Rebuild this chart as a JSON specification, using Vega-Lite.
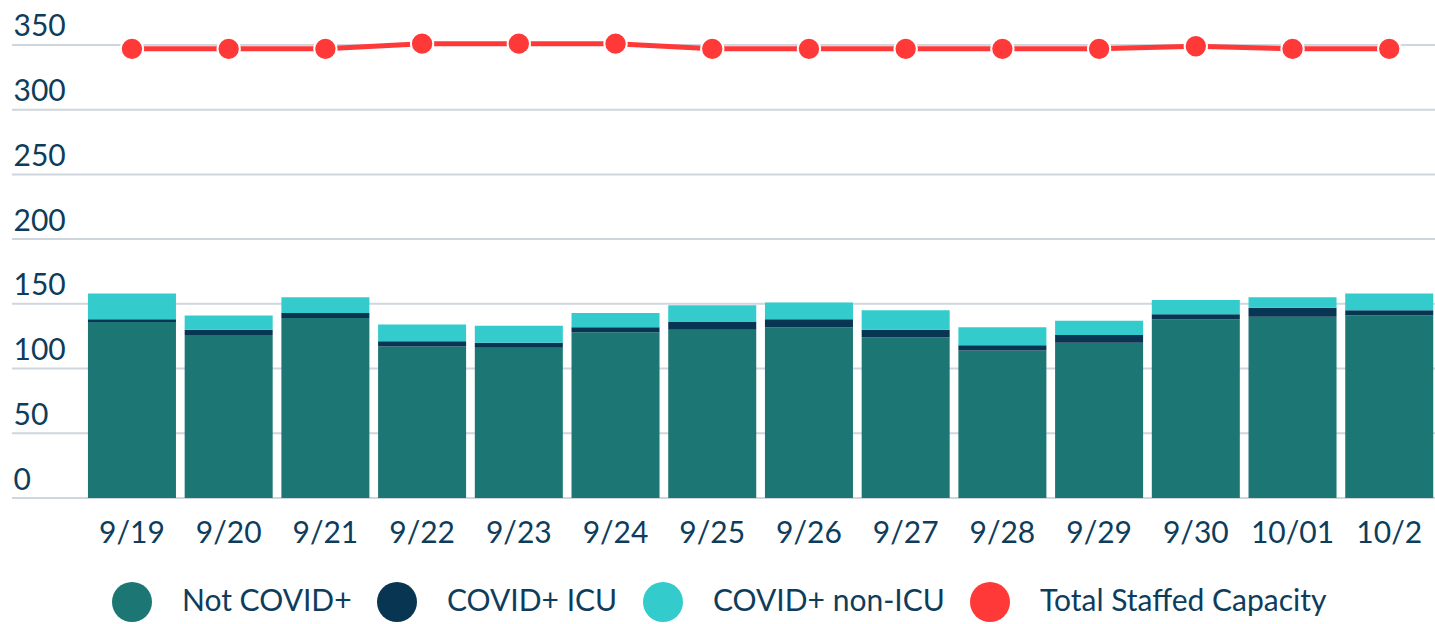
{
  "$schema": "https://vega.github.io/schema/vega-lite/v6.json",
  "autosize": {"type": "none"},
  "padding": {"left": 12, "top": 32, "right": 0, "bottom": 126},
  "width": 1423,
  "height": 466,
  "background": "white",
  "config": {
    "view": {"stroke": null},
    "font": "Lato",
    "axis": {"labelFont": "Lato", "labelColor": "#0e3d5c", "labelFontSize": 30, "title": null},
    "legend": {"labelFont": "Lato", "labelColor": "#0e3d5c", "labelFontSize": 30, "labelLimit": 0}
  },
  "datasets": {
    "census": [
      {"date": "9/19", "notCovid": 136, "icuCovid": 2, "covidNonIcu": 20, "capacity": 347},
      {"date": "9/20", "notCovid": 126, "icuCovid": 4, "covidNonIcu": 11, "capacity": 347},
      {"date": "9/21", "notCovid": 139, "icuCovid": 4, "covidNonIcu": 12, "capacity": 347},
      {"date": "9/22", "notCovid": 117, "icuCovid": 4, "covidNonIcu": 13, "capacity": 351},
      {"date": "9/23", "notCovid": 116, "icuCovid": 4, "covidNonIcu": 13, "capacity": 351},
      {"date": "9/24", "notCovid": 128, "icuCovid": 4, "covidNonIcu": 11, "capacity": 351},
      {"date": "9/25", "notCovid": 130, "icuCovid": 6, "covidNonIcu": 13, "capacity": 347},
      {"date": "9/26", "notCovid": 132, "icuCovid": 6, "covidNonIcu": 13, "capacity": 347},
      {"date": "9/27", "notCovid": 124, "icuCovid": 6, "covidNonIcu": 15, "capacity": 347},
      {"date": "9/28", "notCovid": 114, "icuCovid": 4, "covidNonIcu": 14, "capacity": 347},
      {"date": "9/29", "notCovid": 120, "icuCovid": 6, "covidNonIcu": 11, "capacity": 347},
      {"date": "9/30", "notCovid": 138, "icuCovid": 4, "covidNonIcu": 11, "capacity": 349},
      {"date": "10/01", "notCovid": 140, "icuCovid": 7, "covidNonIcu": 8, "capacity": 347},
      {"date": "10/2", "notCovid": 141, "icuCovid": 4, "covidNonIcu": 13, "capacity": 347}
    ],
    "grid": [{"v": 0}, {"v": 50}, {"v": 100}, {"v": 150}, {"v": 200}, {"v": 250}, {"v": 300}, {"v": 350}]
  },
  "layer": [
    {
      "data": {"name": "grid"},
      "mark": {"type": "rule", "color": "#cfd6de", "strokeWidth": 2},
      "encoding": {
        "y": {
          "field": "v",
          "type": "quantitative",
          "scale": {"domain": [0, 360], "nice": false},
          "axis": {
            "values": [0, 50, 100, 150, 200, 250, 300, 350],
            "domain": false,
            "ticks": false,
            "tickSize": 0,
            "labelAlign": "left",
            "labelBaseline": "alphabetic",
            "labelPadding": -1,
            "labelOffset": -9,
            "grid": false
          }
        }
      }
    },
    {
      "data": {"name": "census"},
      "encoding": {
        "x": {
          "field": "date",
          "type": "nominal",
          "sort": null,
          "scale": {"range": [71.6, 1425.6], "paddingInner": 0.09, "paddingOuter": 0.045},
          "axis": {"domain": false, "ticks": false, "tickSize": 0, "labelPadding": 20, "labelAngle": 0, "grid": false}
        }
      },
      "layer": [
        {
          "transform": [{"fold": ["notCovid", "icuCovid", "covidNonIcu"], "as": ["series", "count"]}],
          "mark": {"type": "bar"},
          "encoding": {
            "y": {"field": "count", "type": "quantitative", "stack": "zero"},
            "color": {
              "field": "series",
              "type": "nominal",
              "scale": {
                "domain": ["notCovid", "icuCovid", "covidNonIcu", "capacity"],
                "range": ["#1c7673", "#073552", "#33cbcc", "#ff3838"]
              },
              "legend": {
                "title": null,
                "orient": "none",
                "direction": "horizontal",
                "legendX": 100,
                "legendY": 550,
                "padding": 0,
                "symbolType": "circle",
                "symbolSize": 1600,
                "symbolStrokeWidth": 0,
                "symbolOpacity": 1,
                "labelOffset": 30,
                "columnPadding": 25,
                "labelLimit": 0,
                "labelExpr": "datum.value == 'notCovid' ? 'Not COVID+' : datum.value == 'icuCovid' ? 'COVID+ ICU' : datum.value == 'covidNonIcu' ? 'COVID+ non-ICU' : 'Total Staffed Capacity'"
              }
            }
          }
        },
        {
          "mark": {"type": "line", "strokeWidth": 5},
          "encoding": {
            "y": {"field": "capacity", "type": "quantitative"},
            "color": {"datum": "capacity", "type": "nominal"}
          }
        },
        {
          "mark": {"type": "point", "filled": true, "size": 500, "opacity": 1, "stroke": "white", "strokeWidth": 2},
          "encoding": {
            "y": {"field": "capacity", "type": "quantitative"},
            "color": {"datum": "capacity", "type": "nominal"}
          }
        }
      ]
    }
  ]
}
